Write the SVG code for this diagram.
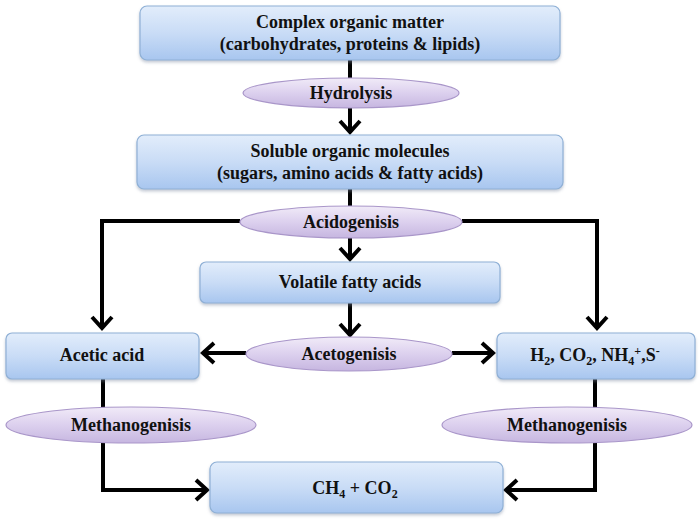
<svg xmlns="http://www.w3.org/2000/svg" width="700" height="525" viewBox="0 0 700 525">
<defs>
<linearGradient id="gBox" x1="0" y1="0" x2="0" y2="1">
<stop offset="0" stop-color="#e2edfb"/>
<stop offset="0.5" stop-color="#c9dcf6"/>
<stop offset="1" stop-color="#a8c6ef"/>
</linearGradient>
<linearGradient id="gEll" x1="0" y1="0" x2="0" y2="1">
<stop offset="0" stop-color="#f1ebf8"/>
<stop offset="0.5" stop-color="#dcd0ee"/>
<stop offset="1" stop-color="#c6b6e0"/>
</linearGradient>
<filter id="sh" x="-5%" y="-10%" width="110%" height="130%">
<feDropShadow dx="0" dy="2" stdDeviation="1.5" flood-color="#7a8aa0" flood-opacity="0.45"/>
</filter>
<marker id="ah" markerUnits="userSpaceOnUse" markerWidth="26" markerHeight="26" viewBox="-15 -13 17 26" refX="0" refY="0" orient="auto">
<path d="M-11,-10 L0,0 L-11,10" fill="none" stroke="#000" stroke-width="4" stroke-linejoin="miter" stroke-linecap="butt"/>
</marker>
</defs>
<g id="connectors" fill="none" stroke="#000" stroke-width="4">
<path d="M350,60 V78"/>
<path d="M350,108 V132" marker-end="url(#ah)"/>
<path d="M350,189 V207"/>
<path d="M240,221 H102 V328" marker-end="url(#ah)"/>
<path d="M462,221 H597 V328" marker-end="url(#ah)"/>
<path d="M350,238 V259" marker-end="url(#ah)"/>
<path d="M350,303 V335" marker-end="url(#ah)"/>
<path d="M246,353 H203" marker-end="url(#ah)"/>
<path d="M452,353 H493" marker-end="url(#ah)"/>
<path d="M103,378 V408"/>
<path d="M103,443 V490 H207" marker-end="url(#ah)"/>
<path d="M595,378 V408"/>
<path d="M595,443 V490 H506" marker-end="url(#ah)"/>
</g>
<g id="nodes" font-family="'Times New Roman', 'Liberation Serif', serif" font-weight="bold" font-size="18" text-anchor="middle" fill="#111">
<g id="complex">
<rect fill="url(#gBox)" stroke="#8fb0d6" stroke-width="1.2" filter="url(#sh)" x="140" y="6" width="420" height="54" rx="7"/>
<text x="350" y="28">Complex organic matter</text>
<text x="350" y="50">(carbohydrates, proteins &amp; lipids)</text>
</g>
<g id="hydrolysis">
<ellipse fill="url(#gEll)" stroke="#a996c9" stroke-width="1.2" cx="351" cy="93" rx="108" ry="15"/>
<text x="351" y="99">Hydrolysis</text>
</g>
<g id="soluble">
<rect fill="url(#gBox)" stroke="#8fb0d6" stroke-width="1.2" filter="url(#sh)" x="137" y="135" width="426" height="54" rx="7"/>
<text x="350" y="157">Soluble organic molecules</text>
<text x="350" y="179">(sugars, amino acids &amp; fatty acids)</text>
</g>
<g id="acidogenisis">
<ellipse fill="url(#gEll)" stroke="#a996c9" stroke-width="1.2" cx="351" cy="222" rx="111" ry="16"/>
<text x="351" y="228">Acidogenisis</text>
</g>
<g id="volatile">
<rect fill="url(#gBox)" stroke="#8fb0d6" stroke-width="1.2" filter="url(#sh)" x="200" y="262" width="300" height="41" rx="6"/>
<text x="350" y="288">Volatile fatty acids</text>
</g>
<g id="acetic">
<rect fill="url(#gBox)" stroke="#8fb0d6" stroke-width="1.2" filter="url(#sh)" x="6" y="333" width="193" height="46" rx="6"/>
<text x="102" y="361">Acetic acid</text>
</g>
<g id="acetogenisis">
<ellipse fill="url(#gEll)" stroke="#a996c9" stroke-width="1.2" cx="349" cy="354" rx="103" ry="17"/>
<text x="349" y="360">Acetogenisis</text>
</g>
<g id="gases">
<rect fill="url(#gBox)" stroke="#8fb0d6" stroke-width="1.2" filter="url(#sh)" x="497" y="333" width="198" height="46" rx="6"/>
<text x="595" y="361">H<tspan font-size="12" dy="4">2</tspan><tspan dy="-4">, CO</tspan><tspan font-size="12" dy="4">2</tspan><tspan dy="-4">, NH</tspan><tspan font-size="12" dy="4">4</tspan><tspan font-size="12" dy="-10">+</tspan><tspan dy="6">,S</tspan><tspan font-size="12" dy="-6">-</tspan></text>
</g>
<g id="methano-left">
<ellipse fill="url(#gEll)" stroke="#a996c9" stroke-width="1.2" cx="131" cy="425" rx="125" ry="18"/>
<text x="131" y="431">Methanogenisis</text>
</g>
<g id="methano-right">
<ellipse fill="url(#gEll)" stroke="#a996c9" stroke-width="1.2" cx="567" cy="425" rx="125" ry="18"/>
<text x="567" y="431">Methanogenisis</text>
</g>
<g id="product">
<rect fill="url(#gBox)" stroke="#8fb0d6" stroke-width="1.2" filter="url(#sh)" x="210" y="462" width="293" height="51" rx="7"/>
<text x="355" y="494">CH<tspan font-size="12" dy="4">4</tspan><tspan dy="-4"> + CO</tspan><tspan font-size="12" dy="4">2</tspan></text>
</g>
</g>
</svg>
